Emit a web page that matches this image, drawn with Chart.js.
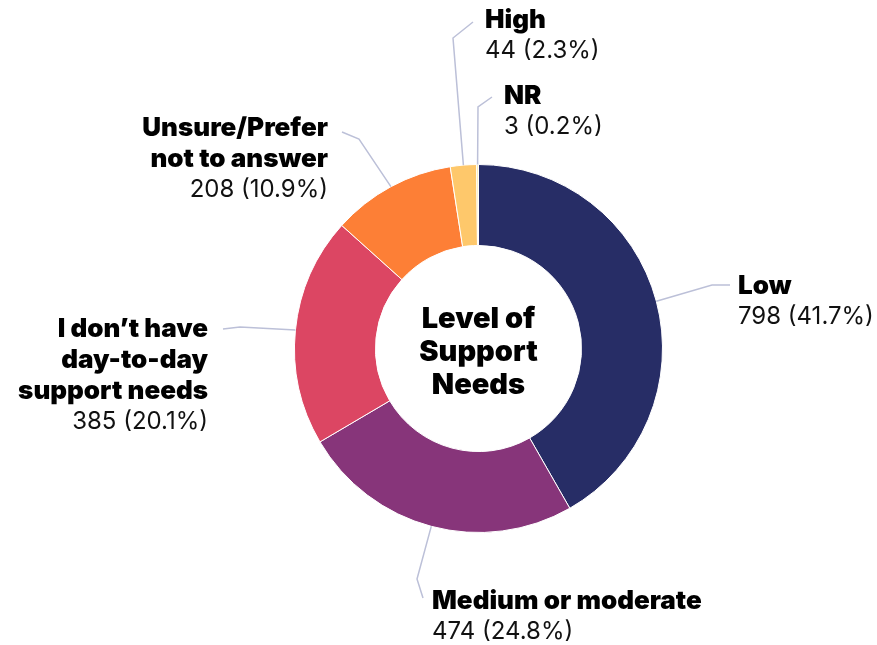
<!DOCTYPE html>
<html>
<head>
<meta charset="utf-8">
<script src="https://cdn.jsdelivr.net/npm/chart.js@4.4.1/dist/chart.umd.min.js"></script>
<style>
  html, body { margin: 0; padding: 0; background: #fff; }
  #wrap { width: 877px; height: 645px; position: relative; }
</style>
</head>
<body>
<div id="wrap"><canvas id="chart"></canvas></div>
<script>
// Level of support needs, counts per answer (clockwise from the top)
const categories = [
  ['Low'],
  ['Medium or moderate'],
  ['I don\u2019t have', 'day-to-day', 'support needs'],
  ['Unsure/Prefer', 'not to answer'],
  ['High'],
  ['NR']
];
const counts = [798, 474, 385, 208, 44, 3];
const centerTitle = ['Level of', 'Support', 'Needs'];

const colors = ['#272d66', '#87357a', '#dc4663', '#fd7f36', '#fec86b', '#fde9a8'];

// callout placement: elbow point, end of leader, text anchor
const callouts = [
  { elbow: [712, 285], end: [730, 285], x: 738, y: 286, align: 'left' },
  { elbow: [417, 579], end: [423, 598], x: 432, y: 601, align: 'left' },
  { elbow: [240, 327], end: [223, 329], x: 208, y: 329, align: 'right' },
  { elbow: [359, 139], end: [342, 132], x: 328, y: 128, align: 'right' },
  { elbow: [453, 38], end: [473, 22], x: 485, y: 20, align: 'left' },
  { elbow: [478, 107], end: [492, 97], x: 504, y: 96, align: 'left' }
];

const total = counts.reduce((a, b) => a + b, 0);
const BOLD = '900 26px Inter, "Noto Sans", sans-serif';
const REG = '400 24px Inter, "Noto Sans", sans-serif';
const LINE = 31;

const calloutPlugin = {
  id: 'callouts',
  afterDraw(chart) {
    const ctx = chart.ctx;
    const meta = chart.getDatasetMeta(0);
    ctx.save();
    meta.data.forEach((arc, i) => {
      const p = arc.getProps(['x', 'y', 'startAngle', 'endAngle', 'outerRadius'], true);
      const mid = (p.startAngle + p.endAngle) / 2;
      const sx = p.x + Math.cos(mid) * p.outerRadius;
      const sy = p.y + Math.sin(mid) * p.outerRadius;
      const c = callouts[i];

      ctx.strokeStyle = '#bcc0d8';
      ctx.lineWidth = 1.5;
      ctx.beginPath();
      ctx.moveTo(sx, sy);
      ctx.lineTo(c.elbow[0], c.elbow[1]);
      ctx.lineTo(c.end[0], c.end[1]);
      ctx.stroke();

      ctx.fillStyle = '#000';
      ctx.textAlign = c.align;
      ctx.textBaseline = 'middle';
      ctx.font = BOLD;
      const lines = chart.data.labels[i];
      lines.forEach((t, k) => ctx.fillText(t, c.x, c.y + k * LINE));
      const v = chart.data.datasets[0].data[i];
      const pct = (v / total * 100).toFixed(1);
      ctx.font = REG;
      ctx.fillStyle = '#111';
      ctx.fillText(v + ' (' + pct + '%)', c.x, c.y + lines.length * LINE);
    });

    // title in the hole
    const a = meta.data[0];
    ctx.fillStyle = '#000';
    ctx.textAlign = 'center';
    ctx.font = '900 29px Inter, "Noto Sans", sans-serif';
    centerTitle.forEach((t, k) => ctx.fillText(t, a.x, a.y - 29 + k * 33));
    ctx.restore();
  }
};

new Chart(document.getElementById('chart'), {
  type: 'doughnut',
  data: {
    labels: categories,
    datasets: [{
      data: counts,
      backgroundColor: colors,
      borderColor: '#ffffff',
      borderWidth: 1,
      hoverOffset: 0
    }]
  },
  options: {
    responsive: true,
    maintainAspectRatio: false,
    animation: false,
    cutout: '56%',
    layout: { padding: { left: 294, right: 214, top: 164, bottom: 112 } },
    plugins: {
      legend: { display: false },
      tooltip: { enabled: false }
    }
  },
  plugins: [calloutPlugin]
});
</script>
</body>
</html>
